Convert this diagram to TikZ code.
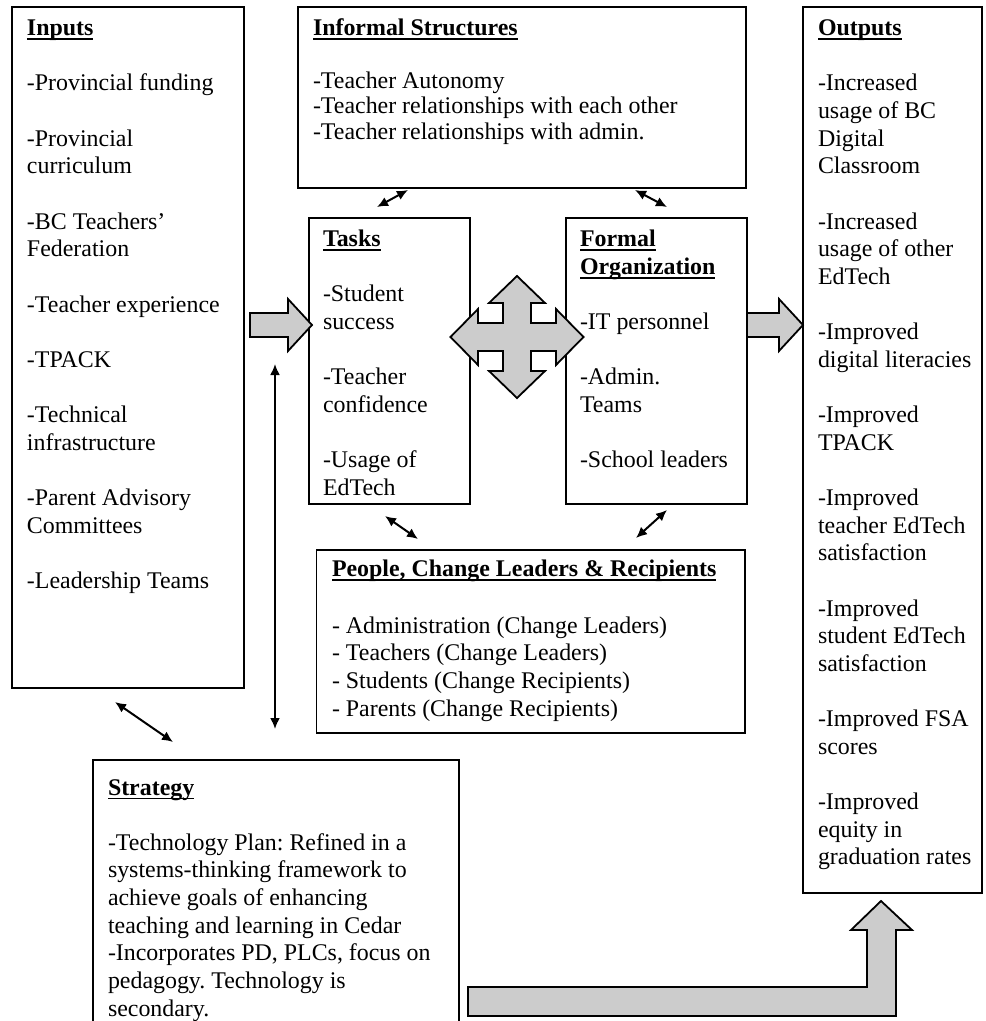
\documentclass[tikz,border=0pt]{standalone}
\usepackage{fontspec}
\setmainfont{Liberation Serif}
\usetikzlibrary{arrows.meta}
\frenchspacing
\definecolor{arrowgray}{RGB}{204,204,204}
\newcommand\boxtitle[1]{\setbox0\hbox{\bfseries #1}\rlap{\rule[-4.2pt]{\wd0}{1.5pt}}\box0}
\tikzset{
  frame/.style={draw, rectangle, line width=1.8pt, fill=white, inner sep=0pt, outer sep=0pt},
  txt/.style={anchor=north west, inner sep=0pt, outer sep=0pt, align=left, font=\fontsize{23.9}{27.64}\selectfont\frenchspacing},
  txtb/.style={txt, font=\fontsize{23.9}{25.5}\selectfont\frenchspacing},
  blockarrow/.style={draw, line width=1.8pt, fill=arrowgray, line join=miter},
  dbl/.style={line width=2pt, {Latex[length=11pt,width=10pt]}-{Latex[length=11pt,width=10pt]}}
}
\begin{document}
\begin{tikzpicture}[x=1pt,y=-1pt]
\clip (0,0) rectangle (986,1021);
\fill[white] (0,0) rectangle (986,1021);
% boxes
\node[frame, minimum width=232pt, minimum height=681pt] (inputs) at (128,347.5) {};
\node[frame, minimum width=448pt, minimum height=181pt] (informal) at (522,97.5) {};
\node[frame, minimum width=179pt, minimum height=886pt] (outputs) at (892.5,450) {};
\node[frame, minimum width=161pt, minimum height=286pt] (tasks) at (389.5,361) {};
\node[frame, minimum width=181pt, minimum height=286pt] (formal) at (656.5,361) {};
\node[frame, minimum width=428.5pt, minimum height=183pt] (people) at (530.75,641.5) {};
\node[frame, minimum width=366pt, minimum height=270pt] (strategy) at (276,895) {};
% texts
\node[txt] (inputsText) at (27,16.35) {\strut\boxtitle{Inputs}\\[27.64pt]
-Provincial funding\\[27.64pt]
-Provincial\\ curriculum\\[27.64pt]
-BC Teachers’\\ Federation\\[27.64pt]
-Teacher experience\\[27.64pt]
-TPACK\\[27.64pt]
-Technical\\ infrastructure\\[27.64pt]
-Parent Advisory\\ Committees\\[27.64pt]
-Leadership Teams};
\node[txtb] (informalText) at (313,17.85) {\strut\boxtitle{Informal Structures}\\[26.8pt]
-Teacher Autonomy\\
-Teacher relationships with each other\\
-Teacher relationships with admin.};
\node[txt] (outputsText) at (818,16.35) {\strut\boxtitle{Outputs}\\[27.64pt]
-Increased\\ usage of BC\\ Digital\\ Classroom\\[27.64pt]
-Increased\\ usage of other\\ EdTech\\[27.64pt]
-Improved\\ digital literacies\\[27.64pt]
-Improved\\ TPACK\\[27.64pt]
-Improved\\ teacher EdTech\\ satisfaction\\[27.64pt]
-Improved\\ student EdTech\\ satisfaction\\[27.64pt]
-Improved FSA\\ scores\\[27.64pt]
-Improved\\ equity in\\ graduation rates};
\node[txt] (tasksText) at (323,227.35) {\strut\boxtitle{Tasks}\\[27.64pt]
-Student\\ success\\[27.64pt]
-Teacher\\ confidence\\[27.64pt]
-Usage of\\ EdTech};
\node[txt] (formalText) at (580,227.35) {\strut\boxtitle{Formal}\\ \boxtitle{Organization}\\[27.64pt]
-IT personnel\\[27.64pt]
-Admin.\\ Teams\\[27.64pt]
-School leaders};
\node[txt] (peopleText) at (332,557.35) {\strut\boxtitle{People, Change Leaders \& Recipients}\\[29pt]
- Administration (Change Leaders)\\
- Teachers (Change Leaders)\\
- Students (Change Recipients)\\
- Parents (Change Recipients)};
\node[txt] (strategyText) at (108,775.65) {\strut\boxtitle{Strategy}\\[27.64pt]
-Technology Plan: Refined in a\\
systems-thinking framework to\\
achieve goals of enhancing\\
teaching and learning in Cedar\\
-Incorporates PD, PLCs, focus on\\
pedagogy. Technology is\\
secondary.};
% block arrows
\draw[blockarrow] (250,313) -- (288,313) -- (288,299) -- (312,325) -- (288,351) -- (288,337) -- (250,337) -- cycle;
\draw[blockarrow] (747,313) -- (779,313) -- (779,299) -- (803,325) -- (779,351) -- (779,337) -- (747,337) -- cycle;
\draw[blockarrow] (468,987) -- (867,987) -- (867,930) -- (851,930) -- (881,901) -- (912,930) -- (896,930) -- (896,1016) -- (468,1016) -- cycle;
\draw[blockarrow, shift={(517,337)}] (0,-61) -- (28,-34) -- (14,-34) -- (14,-14) -- (39,-14) -- (39,-28) -- (66.5,0)
  -- (39,28) -- (39,14) -- (14,14) -- (14,34) -- (28,34) -- (0,61) -- (-28,34) -- (-14,34) -- (-14,14)
  -- (-39,14) -- (-39,28) -- (-66.5,0) -- (-39,-28) -- (-39,-14) -- (-14,-14) -- (-14,-34) -- (-28,-34) -- cycle;
% double arrows
\coordinate (a1) at (408,190); \coordinate (b1) at (377,207);
\coordinate (a2) at (635,190); \coordinate (b2) at (667,207);
\coordinate (a3) at (385,516); \coordinate (b3) at (418,539);
\coordinate (a4) at (667,510); \coordinate (b4) at (636,538);
\coordinate (a5) at (115,702); \coordinate (b5) at (173,742);
\coordinate (a6) at (275,364); \coordinate (b6) at (275,729);
\draw[dbl] (a1) -- (b1);
\draw[dbl] (a2) -- (b2);
\draw[dbl] (a3) -- (b3);
\draw[dbl] (a4) -- (b4);
\draw[dbl] (a5) -- (b5);
\draw[dbl] (a6) -- (b6);
\end{tikzpicture}
\end{document}
